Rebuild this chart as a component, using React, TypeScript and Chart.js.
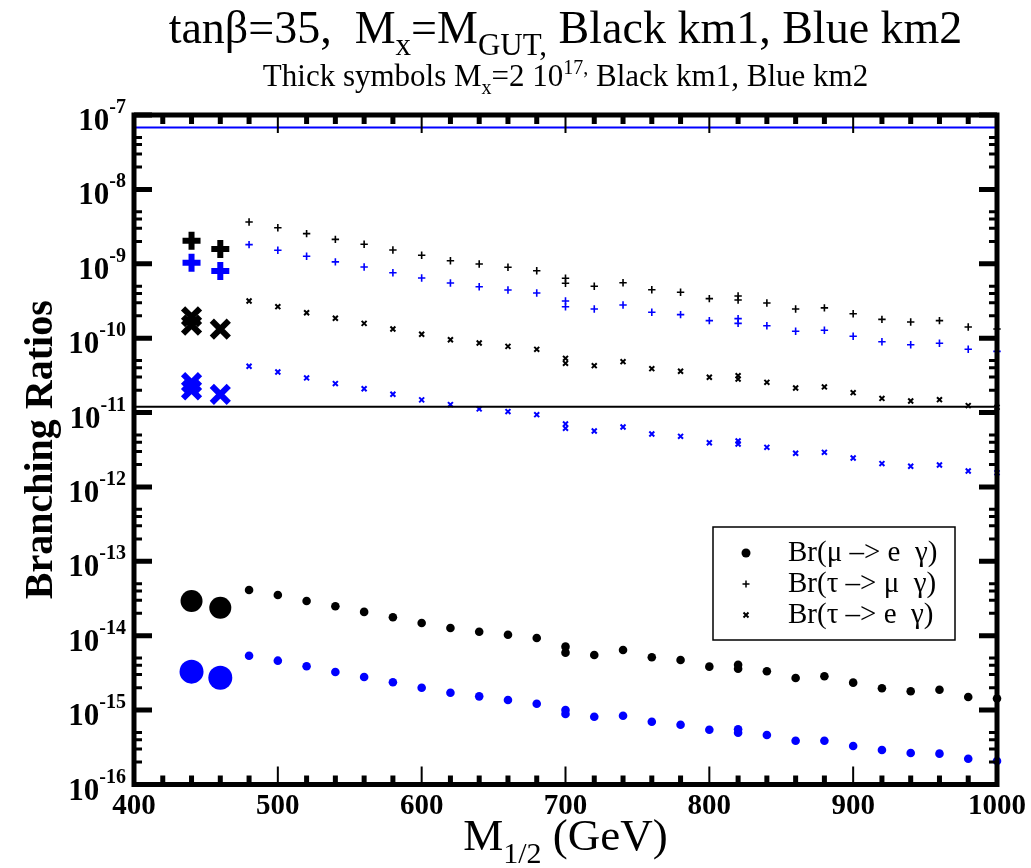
import { useEffect, useRef } from 'react';
import { Chart, registerables } from 'chart.js';

Chart.register(...registerables);

// ---------- data ----------
const mThin = [480, 500, 520, 540, 560, 580, 600, 620, 640, 660, 680, 700, 700, 720, 740, 760, 780, 800, 820, 820, 840, 860, 880, 900, 920, 940, 960, 980, 1000];

const mueKm1 = [4.12e-14, 3.53e-14, 2.93e-14, 2.49e-14, 2.09e-14, 1.77e-14, 1.48e-14, 1.27e-14, 1.13e-14, 1.03e-14, 9.3e-15, 7.13e-15, 5.92e-15, 5.51e-15, 6.43e-15, 5.13e-15, 4.72e-15, 3.84e-15, 4.08e-15, 3.6e-15, 3.33e-15, 2.7e-15, 2.85e-15, 2.34e-15, 1.97e-15, 1.79e-15, 1.88e-15, 1.5e-15, 1.43e-15];
const mueKm2 = [5.39e-15, 4.62e-15, 3.88e-15, 3.25e-15, 2.79e-15, 2.37e-15, 2.0e-15, 1.71e-15, 1.53e-15, 1.37e-15, 1.22e-15, 1.0e-15, 8.87e-16, 8.16e-16, 8.41e-16, 6.98e-16, 6.37e-16, 5.45e-16, 5.52e-16, 4.97e-16, 4.63e-16, 3.88e-16, 3.88e-16, 3.3e-16, 2.91e-16, 2.65e-16, 2.6e-16, 2.22e-16, 2.07e-16];
const tmgKm1 = [3.65e-9, 3.05e-9, 2.54e-9, 2.13e-9, 1.83e-9, 1.53e-9, 1.3e-9, 1.1e-9, 9.93e-10, 8.97e-10, 8.07e-10, 6.38e-10, 5.47e-10, 4.98e-10, 5.57e-10, 4.48e-10, 4.14e-10, 3.4e-10, 3.69e-10, 3.26e-10, 2.97e-10, 2.47e-10, 2.55e-10, 2.13e-10, 1.79e-10, 1.65e-10, 1.72e-10, 1.41e-10, 1.33e-10];
const tmgKm2 = [1.81e-9, 1.52e-9, 1.26e-9, 1.06e-9, 9.06e-10, 7.59e-10, 6.44e-10, 5.52e-10, 4.92e-10, 4.45e-10, 4.05e-10, 3.16e-10, 2.65e-10, 2.47e-10, 2.79e-10, 2.23e-10, 2.07e-10, 1.72e-10, 1.83e-10, 1.58e-10, 1.47e-10, 1.24e-10, 1.28e-10, 1.06e-10, 8.97e-11, 8.17e-11, 8.53e-11, 7.08e-11, 6.65e-11];
const tegKm1 = [3.16e-10, 2.65e-10, 2.2e-10, 1.85e-10, 1.58e-10, 1.33e-10, 1.13e-10, 9.53e-11, 8.6e-11, 7.76e-11, 7.08e-11, 5.36e-11, 4.59e-11, 4.27e-11, 4.83e-11, 3.89e-11, 3.59e-11, 2.98e-11, 3.13e-11, 2.82e-11, 2.55e-11, 2.14e-11, 2.21e-11, 1.85e-11, 1.55e-11, 1.43e-11, 1.49e-11, 1.24e-11, 1.18e-11];
const tegKm2 = [4.19e-11, 3.51e-11, 2.92e-11, 2.45e-11, 2.09e-11, 1.76e-11, 1.48e-11, 1.28e-11, 1.12e-11, 1.03e-11, 9.37e-12, 7.03e-12, 6.14e-12, 5.65e-12, 6.4e-12, 5.15e-12, 4.79e-12, 3.93e-12, 4.15e-12, 3.78e-12, 3.41e-12, 2.84e-12, 2.92e-12, 2.45e-12, 2.06e-12, 1.9e-12, 1.97e-12, 1.64e-12, 1.55e-12];

// thick symbols (Mx = 2 10^17)
const mThick = [440, 460];
const mueThickKm1 = [2.93e-14, 2.38e-14];
const mueThickKm2 = [3.29e-15, 2.73e-15];
const tmgThickKm1 = [2.04e-9, 1.58e-9];
const tmgThickKm2 = [1.03e-9, 8.0e-10];
const mThickX = [440, 440, 460];
const tegThickKm1 = [1.94e-10, 1.5e-10, 1.32e-10];
const tegThickKm2 = [2.52e-11, 2.01e-11, 1.76e-11];

// experimental bounds
const boundX = [400, 1000];
const tauMuBound = 6.8e-8;
const muEBound = 1.2e-11;

// axes
const xTickLabels = ['400', '500', '600', '700', '800', '900', '1000'];
const yDecades = [-16, -15, -14, -13, -12, -11, -10, -9, -8, -7];

const legendLabels = ['Br(\u03bc \u2013> e  \u03b3)', 'Br(\u03c4 \u2013> \u03bc  \u03b3)', 'Br(\u03c4 \u2013> e  \u03b3)'];

const BLACK = '#000000';
const BLUE = '#0000ff';
const SERIF = '"Liberation Serif", "DejaVu Serif", serif';

type Seg = { t: string; size: number; bold?: boolean; dy?: number };

function richWidth(ctx: CanvasRenderingContext2D, segs: Seg[]) {
  let w = 0;
  for (const s of segs) {
    ctx.font = `${s.bold ? 'bold ' : ''}${s.size}px ${SERIF}`;
    w += ctx.measureText(s.t).width;
  }
  return w;
}

function drawRich(ctx: CanvasRenderingContext2D, segs: Seg[], x: number, y: number, align: 'left' | 'center' | 'right') {
  const w = richWidth(ctx, segs);
  let cx = align === 'left' ? x : align === 'center' ? x - w / 2 : x - w;
  ctx.textAlign = 'left';
  ctx.textBaseline = 'alphabetic';
  for (const s of segs) {
    ctx.font = `${s.bold ? 'bold ' : ''}${s.size}px ${SERIF}`;
    ctx.fillText(s.t, cx, y + (s.dy || 0));
    cx += ctx.measureText(s.t).width;
  }
}

const decorPlugin = {
  id: 'decor',
  afterDraw(chart: any) {
    const ctx: CanvasRenderingContext2D = chart.ctx;
    const { left, right, top, bottom } = chart.chartArea;
    const xs = chart.scales.x;
    const ys = chart.scales.y;
    ctx.save();
    ctx.fillStyle = BLACK;
    ctx.strokeStyle = BLACK;

    // x ticks
    for (let v = 400; v <= 1000; v += 20) {
      if (v === 400 || v === 1000) continue;
      const px = xs.getPixelForValue(v);
      const major = v % 100 === 0;
      ctx.lineWidth = major ? 2 : 5;
      const len = major ? 18 : 9;
      ctx.beginPath();
      ctx.moveTo(px, bottom);
      ctx.lineTo(px, bottom - len);
      ctx.moveTo(px, top);
      ctx.lineTo(px, top + len);
      ctx.stroke();
    }
    // y ticks
    for (const d of yDecades) {
      const py = ys.getPixelForValue(Math.pow(10, d));
      ctx.lineWidth = 5;
      ctx.beginPath();
      ctx.moveTo(left, py);
      ctx.lineTo(left + 18, py);
      ctx.moveTo(right, py);
      ctx.lineTo(right - 18, py);
      ctx.stroke();
      if (d < -7) {
        for (let k = 2; k <= 5; k++) {
          const pm = ys.getPixelForValue(k * Math.pow(10, d));
          ctx.lineWidth = 3;
          ctx.beginPath();
          ctx.moveTo(left, pm);
          ctx.lineTo(left + 8, pm);
          ctx.moveTo(right, pm);
          ctx.lineTo(right - 8, pm);
          ctx.stroke();
        }
      }
    }
    // frame
    ctx.lineWidth = 5;
    ctx.strokeRect(left, top, right - left, bottom - top);

    // y tick labels
    for (const d of yDecades) {
      const py = ys.getPixelForValue(Math.pow(10, d));
      drawRich(ctx, [
        { t: '10', size: 31, bold: true, dy: 15 },
        { t: String(d), size: 20, bold: true, dy: -2 },
      ], 126, py, 'right');
    }
    // x tick labels
    for (const lab of xTickLabels) {
      const px = xs.getPixelForValue(Number(lab));
      ctx.font = `bold 29px ${SERIF}`;
      ctx.textAlign = 'center';
      ctx.textBaseline = 'alphabetic';
      ctx.fillText(lab, px, 814);
    }

    const cxPlot = (left + right) / 2;
    // title
    drawRich(ctx, [
      { t: 'tan\u03b2=35,  M', size: 46 },
      { t: 'x', size: 31, dy: 12 },
      { t: '=M', size: 46 },
      { t: 'GUT,', size: 31, dy: 12 },
      { t: ' Black km1, Blue km2', size: 46 },
    ], cxPlot, 43, 'center');
    // subtitle
    drawRich(ctx, [
      { t: 'Thick symbols M', size: 31 },
      { t: 'x', size: 20, dy: 8 },
      { t: '=2 10', size: 31 },
      { t: '17,', size: 20, dy: -12 },
      { t: ' Black km1, Blue km2', size: 31 },
    ], cxPlot, 86, 'center');

    // x axis title
    drawRich(ctx, [
      { t: 'M', size: 45 },
      { t: '1/2', size: 30, dy: 13 },
      { t: ' (GeV)', size: 45 },
    ], cxPlot, 850, 'center');

    // y axis title
    ctx.save();
    ctx.translate(42, (top + bottom) / 2);
    ctx.rotate(-Math.PI / 2);
    ctx.font = `bold 40px ${SERIF}`;
    ctx.textAlign = 'center';
    ctx.textBaseline = 'middle';
    ctx.fillText('Branching Ratios', 0, 0);
    ctx.restore();

    // legend
    const lx = 713, ly = 527, lw = 242, lh = 113;
    ctx.fillStyle = '#ffffff';
    ctx.fillRect(lx, ly, lw, lh);
    ctx.lineWidth = 1.5;
    ctx.strokeStyle = BLACK;
    ctx.strokeRect(lx, ly, lw, lh);
    ctx.fillStyle = BLACK;
    const rows = [553, 584, 615];
    const sx = 746;
    // dot
    ctx.beginPath();
    ctx.arc(sx, rows[0], 4.5, 0, Math.PI * 2);
    ctx.fill();
    // plus
    ctx.lineWidth = 1.5;
    ctx.beginPath();
    ctx.moveTo(sx - 3.5, rows[1]); ctx.lineTo(sx + 3.5, rows[1]);
    ctx.moveTo(sx, rows[1] - 3.5); ctx.lineTo(sx, rows[1] + 3.5);
    ctx.stroke();
    // cross
    ctx.lineWidth = 2;
    ctx.beginPath();
    ctx.moveTo(sx - 2.5, rows[2] - 2.5); ctx.lineTo(sx + 2.5, rows[2] + 2.5);
    ctx.moveTo(sx + 2.5, rows[2] - 2.5); ctx.lineTo(sx - 2.5, rows[2] + 2.5);
    ctx.stroke();
    ctx.font = `29px ${SERIF}`;
    ctx.textAlign = 'left';
    ctx.textBaseline = 'middle';
    legendLabels.forEach((lab, i) => ctx.fillText(lab, 788, rows[i]));

    ctx.restore();
  },
};

function pts(xsArr: number[], ysArr: number[]) {
  return xsArr.map((x, i) => ({ x, y: ysArr[i] }));
}

export default function App() {
  const ref = useRef<HTMLCanvasElement | null>(null);
  useEffect(() => {
    document.body.style.margin = '0';
    const canvas = ref.current;
    if (!canvas) return;
    const dot = (data: any, color: string, r: number) => ({
      type: 'scatter', data, pointStyle: 'circle', pointRadius: r, pointBackgroundColor: color,
      pointBorderWidth: 0, borderColor: color, backgroundColor: color, showLine: false, clip: false,
    });
    const sym = (data: any, color: string, style: string, r: number, w: number) => ({
      type: 'scatter', data, pointStyle: style, pointRadius: r, pointBorderColor: color,
      pointBorderWidth: w, borderColor: color, backgroundColor: color, showLine: false, clip: false,
    });
    const line = (y: number, color: string) => ({
      type: 'line', data: boundX.map((x) => ({ x, y })), borderColor: color, borderWidth: 2,
      pointRadius: 0, fill: false,
    });
    const chart = new Chart(canvas, {
      type: 'scatter',
      data: {
        datasets: [
          line(tauMuBound, BLUE),
          line(muEBound, BLACK),
          dot(pts(mThin, mueKm1), BLACK, 4.3),
          dot(pts(mThin, mueKm2), BLUE, 4.3),
          sym(pts(mThin, tmgKm1), BLACK, 'cross', 3.7, 1.6),
          sym(pts(mThin, tmgKm2), BLUE, 'cross', 3.7, 1.6),
          sym(pts(mThin, tegKm1), BLACK, 'crossRot', 3.5, 2),
          sym(pts(mThin, tegKm2), BLUE, 'crossRot', 3.5, 2),
          dot(pts(mThick, mueThickKm1), BLACK, 11),
          dot(pts(mThick, mueThickKm2), BLUE, 12),
          sym(pts(mThick, tmgThickKm1), BLACK, 'cross', 9, 6),
          sym(pts(mThick, tmgThickKm2), BLUE, 'cross', 9, 6),
          sym(pts(mThickX, tegThickKm1), BLACK, 'crossRot', 12, 6),
          sym(pts(mThickX, tegThickKm2), BLUE, 'crossRot', 12, 6),
        ] as any,
      },
      options: {
        animation: false,
        responsive: false,
        maintainAspectRatio: false,
        devicePixelRatio: 1,
        layout: { padding: { left: 134, right: 34, top: 115, bottom: 83.5 } },
        plugins: { legend: { display: false }, tooltip: { enabled: false }, title: { display: false } },
        events: [],
        scales: {
          x: { type: 'linear', display: false, min: 400, max: 1000 },
          y: { type: 'logarithmic', display: false, min: 1e-16, max: 1e-7 },
        },
      } as any,
      plugins: [decorPlugin],
    });
    return () => chart.destroy();
  }, []);
  return <canvas ref={ref} width={1031} height={868} style={{ display: 'block' }} />;
}
